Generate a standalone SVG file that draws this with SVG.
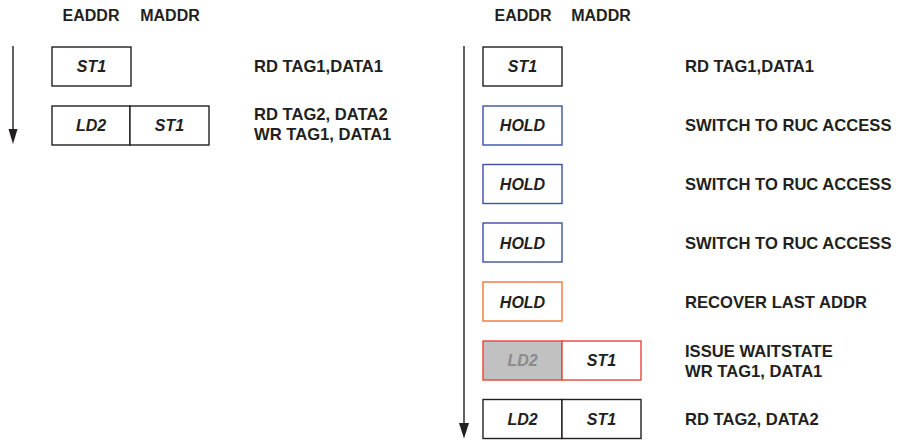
<svg xmlns="http://www.w3.org/2000/svg" width="899" height="440" viewBox="0 0 899 440">
<defs>
<style>
text{font-family:"Liberation Sans",Arial,sans-serif;font-weight:bold;font-size:16px;fill:#231f20}
.lbl{font-style:italic;text-anchor:middle}
.hdr{text-anchor:middle}
.desc{font-size:16.6px}
.box{fill:#fff;stroke:#231f20;stroke-width:1.4}
.blue{stroke:#3d4fa6}
.orange{stroke:#f07834}
.red{stroke:#e8443a}
.conn{stroke:#231f20;stroke-width:1.4;fill:none}
.head{fill:#231f20}
</style>
</defs>
<rect width="899" height="440" fill="#fff"/>
<g id="connectors">
<line class="conn" x1="13" y1="46" x2="13" y2="130"/>
<path class="head" d="M8.5,129 L17.5,129 L13,144 Z"/>
<line class="conn" x1="464" y1="46" x2="464" y2="424"/>
<path class="head" d="M459,423 L469,423 L464,438.5 Z"/>
</g>
<g id="headers-left">
<text class="hdr" x="91" y="21">EADDR</text>
<text class="hdr" x="170" y="21">MADDR</text>
</g>
<g id="headers-right">
<text class="hdr" x="523" y="21">EADDR</text>
<text class="hdr" x="601" y="21">MADDR</text>
</g>
<g id="L1">
<rect class="box" x="52" y="47" width="79" height="39"/>
<text class="lbl" x="91.5" y="72">ST1</text>
<text class="desc" x="254" y="72">RD TAG1,DATA1</text>
</g>
<g id="L2">
<rect class="box" x="52" y="106" width="78" height="39"/>
<rect class="box" x="130" y="106" width="79" height="39"/>
<text class="lbl" x="91" y="131">LD2</text>
<text class="lbl" x="169.5" y="131">ST1</text>
<text class="desc" x="254" y="120">RD TAG2, DATA2</text>
<text class="desc" x="254" y="140">WR TAG1, DATA1</text>
</g>
<g id="R1">
<rect class="box" x="483" y="47" width="79" height="39"/>
<text class="lbl" x="522.5" y="72">ST1</text>
<text class="desc" x="685" y="72">RD TAG1,DATA1</text>
</g>
<g id="R2">
<rect class="box blue" x="483" y="106" width="79" height="39"/>
<text class="lbl" x="522.5" y="131">HOLD</text>
<text class="desc" x="685" y="131">SWITCH TO RUC ACCESS</text>
</g>
<g id="R3">
<rect class="box blue" x="483" y="164.5" width="79" height="39"/>
<text class="lbl" x="522.5" y="190">HOLD</text>
<text class="desc" x="685" y="190">SWITCH TO RUC ACCESS</text>
</g>
<g id="R4">
<rect class="box blue" x="483" y="223" width="79" height="39"/>
<text class="lbl" x="522.5" y="248.5">HOLD</text>
<text class="desc" x="685" y="248.5">SWITCH TO RUC ACCESS</text>
</g>
<g id="R5">
<rect class="box orange" x="483" y="282" width="79" height="39"/>
<text class="lbl" x="522.5" y="307.5">HOLD</text>
<text class="desc" x="685" y="307.5">RECOVER LAST ADDR</text>
</g>
<g id="R6">
<rect x="483" y="341" width="79" height="39" fill="#c1c1c1" stroke="#e8443a" stroke-width="1.4"/>
<rect class="box red" x="562" y="341" width="79" height="39"/>
<text class="lbl" x="522.5" y="366" style="fill:#8a8a8a">LD2</text>
<text class="lbl" x="601.5" y="366">ST1</text>
<text class="desc" x="685" y="357">ISSUE WAITSTATE</text>
<text class="desc" x="685" y="377">WR TAG1, DATA1</text>
</g>
<g id="R7">
<rect class="box" x="483" y="399.5" width="79" height="39"/>
<rect class="box" x="562" y="399.5" width="79" height="39"/>
<text class="lbl" x="522.5" y="425">LD2</text>
<text class="lbl" x="601.5" y="425">ST1</text>
<text class="desc" x="685" y="425">RD TAG2, DATA2</text>
</g>
</svg>
